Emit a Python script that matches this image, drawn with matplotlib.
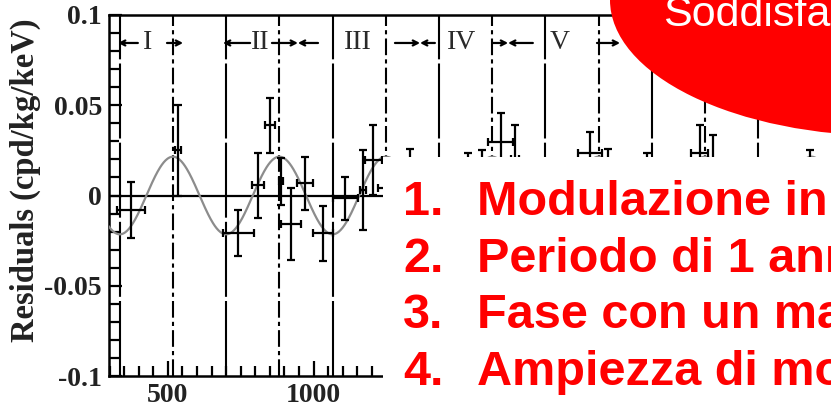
import numpy as np
import matplotlib
matplotlib.use('Agg')
import matplotlib.pyplot as plt
from matplotlib.patches import Ellipse, Rectangle
from matplotlib.ticker import MultipleLocator, FixedLocator

plt.rcParams['font.family'] = ['Liberation Serif', 'DejaVu Serif']

# residual rate per time bin (days), with bin half-widths and errors
days = [372, 536, 742, 810, 850, 888, 922, 970, 1033, 1108, 1170, 1205,
        1251, 1330, 1529, 1576, 1642, 1691, 1948, 2011, 2142, 2325, 2371, 2703]
resid = [-0.008, 0.025, -0.021, 0.0058, 0.039, 0.008, -0.016, 0.0068, -0.021, -0.0016, 0.003, 0.0197,
         0.004, 0.008, 0.005, 0.007, 0.0298, 0.020, 0.0235, 0.008, 0.005, 0.0235, 0.015, 0.006]
day_err = [48, 10, 54, 20, 17, 8, 34, 28, 34, 43, 10, 30,
           30, 20, 20, 20, 43, 15, 40, 20, 20, 29, 15, 20]
resid_err = [0.0155, 0.025, 0.0127, 0.018, 0.0152, 0.013, 0.020, 0.0148, 0.0152, 0.012, 0.022, 0.0194,
             0.017, 0.018, 0.0185, 0.018, 0.0157, 0.019, 0.0118, 0.018, 0.0184, 0.0155, 0.0185, 0.019]

# cosine fit: amplitude, period, phase (June 2nd)
amp = 0.0215
period = 365.0
phase = 152.5

# expected minima / maxima markers
minima_days = [335, 700, 1065, 1430, 1795, 2160, 2525]
maxima_days = [517.5, 882.5, 1247.5, 1612.5, 1977.5, 2342.5]

# annual cycles along the top
cycle_names = ['I', 'II', 'III', 'IV', 'V']
cycle_mid = [432, 816, 1152, 1509, 1845]
cycle_start = [329, 689, 946, 1365, 1667]
cycle_end = [552, 946, 1365, 1667, 2051]
cycle_in_left = [397, 782, 1015, 1416, 1752]
cycle_in_right = [497, 857, 1279, 1615, 1972]

x_major = [500, 1000, 1500, 2000, 2500]
x_major_labels = ['500', '1000', '', '', '']
y_major = [-0.1, -0.05, 0, 0.05, 0.1]
y_major_labels = ['-0.1', '-0.05', '0', '0.05', '0.1']

points = ['1.', '2.', '3.', '4.']
requirements = ['Modulazione in coseno',
                'Periodo di 1 anno',
                'Fase con un massimo al 2 giugno',
                'Ampiezza di modulazione < 7%']

W, H = 831, 407
fig = plt.figure(figsize=(W / 100, H / 100), dpi=100)
ax = fig.add_axes([109 / W, 1 - 376 / H, 758.5 / W, 361 / H])
ax.set_xlim(298, 2900)
ax.set_ylim(-0.1, 0.1)

for d in minima_days:
    ax.axvline(d, color='black', lw=1.5, linestyle=(0, (36, 2)), zorder=1)
for d in maxima_days:
    ax.axvline(d, color='black', lw=1.5, linestyle=(0, (8, 2, 2, 2)), zorder=1)

ax.axhline(0, color='black', lw=1.6, zorder=2)

t = np.linspace(298, 2800, 1200)
ax.plot(t, amp * np.cos(2 * np.pi / period * (t - phase)), color='#8c8c8c', lw=1.6, zorder=3)

ax.errorbar(days, resid, xerr=day_err, yerr=resid_err, fmt='none', ecolor='black',
            elinewidth=1.6, capsize=3, capthick=1.6, zorder=4)

ytop = 0.0845
for name, mid, s, e, il, ir in zip(cycle_names, cycle_mid, cycle_start, cycle_end,
                                   cycle_in_left, cycle_in_right):
    ax.text(mid, ytop, name, ha='center', va='center', fontsize=20, color='#2a2a2a', zorder=5)
    for a, b in [(il, s), (ir, e)]:
        ax.annotate('', xy=(b, ytop), xytext=(a, ytop),
                    arrowprops=dict(arrowstyle='->,head_length=0.35,head_width=0.18',
                                    lw=1.6, color='black', shrinkA=0, shrinkB=0))

for side in ['left', 'bottom', 'top', 'right']:
    ax.spines[side].set_linewidth(1.8)

ax.yaxis.set_major_locator(FixedLocator(y_major))
ax.set_yticklabels(y_major_labels)
ax.yaxis.set_minor_locator(MultipleLocator(0.01))
ax.xaxis.set_major_locator(FixedLocator(x_major))
ax.set_xticklabels(x_major_labels)
ax.xaxis.set_minor_locator(MultipleLocator(50))

ax.tick_params(axis='both', which='both', direction='in', top=False, right=False,
               width=1.6, colors='black')
ax.tick_params(axis='y', which='major', length=9, pad=5, labelsize=20)
ax.tick_params(axis='y', which='minor', length=7)
ax.tick_params(axis='x', which='major', length=11, pad=5, labelsize=20)
ax.tick_params(axis='x', which='minor', length=7)
for lab in ax.get_xticklabels() + ax.get_yticklabels():
    lab.set_fontweight('bold')
    lab.set_color('#222222')

fig.text(25 / W, 1 - 180 / H, 'Residuals (cpd/kg/keV)', rotation=90, ha='center', va='center',
         fontsize=23.5, fontweight='bold', color='#222222')

# slide overlay: text box and red balloon
fig.add_artist(Rectangle((383 / W, 0), 1, 1 - 157 / H, transform=fig.transFigure,
                         facecolor='white', edgecolor='none', zorder=2))
fig.add_artist(Ellipse((889 / W, 1.0), 558 / W, 272 / H, transform=fig.transFigure,
                       facecolor='#ff0000', edgecolor='none', zorder=2))
fig.text(663 / W, 1 - 26 / H, 'Soddisfatte', color='white', fontsize=31,
         family='Liberation Sans', va='baseline')

for i, (num, txt) in enumerate(zip(points, requirements)):
    yb = 1 - (215 + 56.7 * i) / H
    fig.text(403 / W, yb, num, color='#ff0000', fontsize=35, fontweight='bold',
             family='Liberation Sans', va='baseline')
    fig.text(477 / W, yb, txt, color='#ff0000', fontsize=35, fontweight='bold',
             family='Liberation Sans', va='baseline')

fig.savefig('out.png', dpi=100)
